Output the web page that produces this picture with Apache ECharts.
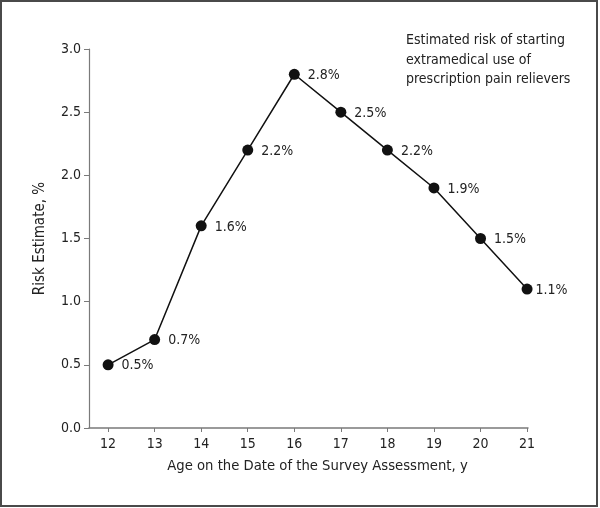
<!DOCTYPE html>
<html><head><meta charset="utf-8">
<script src="https://cdn.jsdelivr.net/npm/echarts@6/dist/echarts.min.js"></script>
<style>html,body{margin:0;padding:0;background:#fff}#c{width:600px;height:508px}</style>
</head><body><div id="c"></div>
<script>
const ages = [12, 13, 14, 15, 16, 17, 18, 19, 20, 21];
const risk = [0.5, 0.7, 1.6, 2.2, 2.8, 2.5, 2.2, 1.9, 1.5, 1.1];
const yTicks = [0, 0.5, 1.0, 1.5, 2.0, 2.5, 3.0];
const xTitle = 'Age on the Date of the Survey Assessment, y';
const yTitle = 'Risk Estimate, %';
const note = ['Estimated risk of starting', 'extramedical use of', 'prescription pain relievers'];

const FONT = '"Liberation Sans Narrow", "DejaVu Sans Condensed", "Liberation Sans", sans-serif';
const TXT = '#222';
const AX = '#7a7a7a';

const chart = echarts.init(document.getElementById('c'), null, {renderer: 'canvas'});
chart.setOption({
  animation: false,
  backgroundColor: '#fff',
  textStyle: {fontFamily: FONT},
  grid: {left: 89, right: 72, top: 49, bottom: 80, containLabel: false},
  xAxis: {
    type: 'value', min: 11.59, max: 21.02,
    name: xTitle, nameLocation: 'middle', nameGap: 31,
    nameTextStyle: {fontFamily: FONT, fontSize: 14.7, color: TXT, padding: [0, 0, 0, 18]},
    axisLine: {show: true, lineStyle: {color: AX, width: 1.5}},
    axisTick: {show: true, customValues: ages, length: 4, lineStyle: {color: AX, width: 1}},
    axisLabel: {customValues: ages, fontFamily: FONT, fontSize: 14, color: TXT, margin: 9},
    splitLine: {show: false}
  },
  yAxis: {
    type: 'value', min: 0, max: 3, interval: 0.5,
    name: yTitle, nameLocation: 'middle', nameGap: 41,
    nameTextStyle: {fontFamily: FONT, fontSize: 15, color: TXT},
    axisLine: {show: true, lineStyle: {color: AX, width: 1.2}},
    axisTick: {show: true, length: 5, lineStyle: {color: AX, width: 1}},
    axisLabel: {fontFamily: FONT, fontSize: 14, color: TXT, margin: 8,
      formatter: v => v.toFixed(1)},
    splitLine: {show: false}
  },
  series: [{
    type: 'line',
    data: ages.map((a, i) => {
      const item = {value: [a, risk[i]]};
      if (i === ages.length - 1) item.label = {distance: 3};
      return item;
    }),
    symbol: 'circle', symbolSize: 11,
    itemStyle: {color: '#111'},
    lineStyle: {color: '#111', width: 1.5},
    label: {show: true, position: 'right', distance: 8, offset: [0, 1],
      fontFamily: FONT, fontSize: 14, color: TXT,
      formatter: p => p.value[1].toFixed(1) + '%'}
  }],
  graphic: [
    {type: 'rect', shape: {x: 1, y: 1, width: 596, height: 505},
     style: {fill: null, stroke: '#4a4a4a', lineWidth: 2}, silent: true},
    {type: 'text', left: 406, top: 31,
     style: {text: note.join('\n'), font: '14px ' + FONT, fill: TXT, lineHeight: 19.5}}
  ]
});
</script></body></html>
